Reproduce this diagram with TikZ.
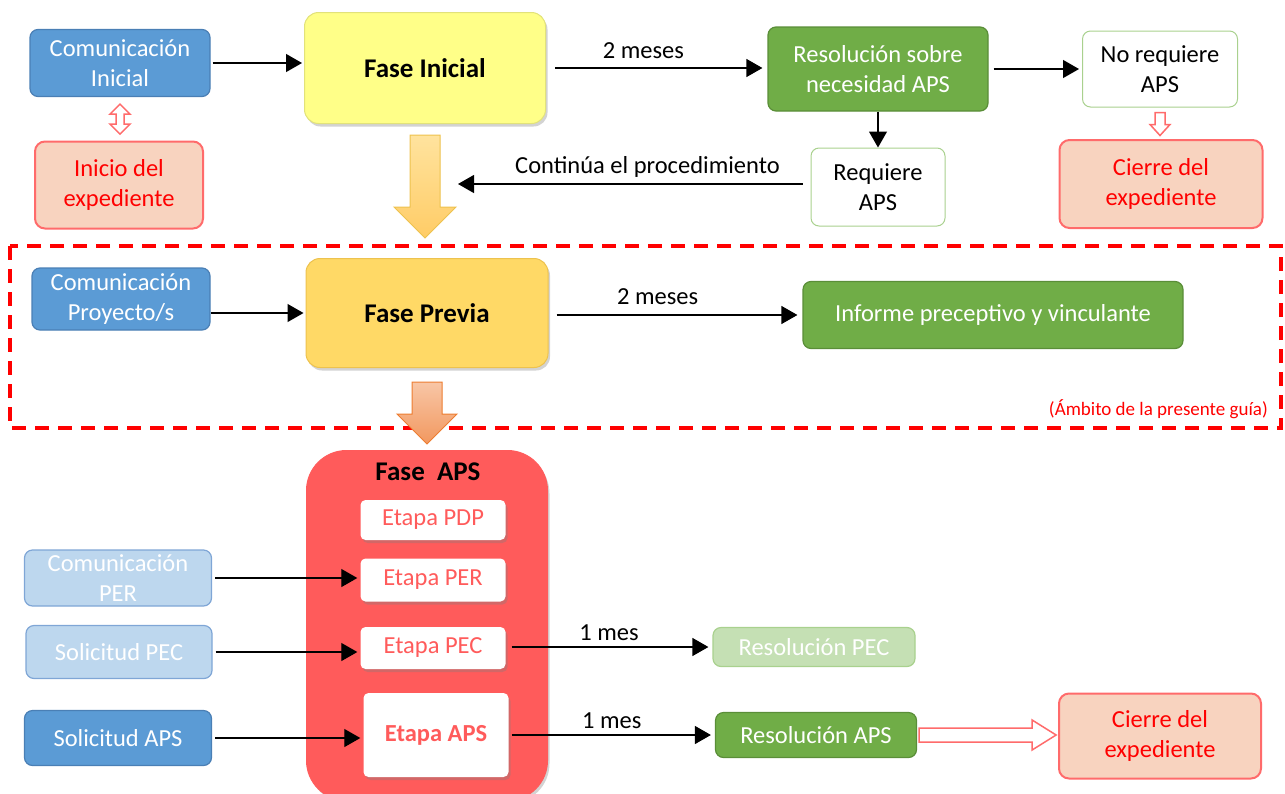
\documentclass[tikz,border=0pt]{standalone}
\usepackage{fontspec}
\setmainfont{Carlito}
\usetikzlibrary{arrows.meta,shadows}
\definecolor{azul}{HTML}{5B9BD5}
\definecolor{azulD}{HTML}{4A7FB5}
\definecolor{azulC}{HTML}{BDD7EE}
\definecolor{azulCD}{HTML}{7FA6D6}
\definecolor{verde}{HTML}{70AD47}
\definecolor{verdeD}{HTML}{5A8E38}
\definecolor{verdeC}{HTML}{C5E0B4}
\definecolor{verdeCD}{HTML}{A9D18E}
\definecolor{melocoton}{HTML}{F8D3BF}
\definecolor{rojoB}{HTML}{FF6B6B}
\definecolor{rojoT}{HTML}{FF0000}
\definecolor{rojoAPS}{HTML}{FF5B5B}
\definecolor{amarillo}{HTML}{FFFF88}
\definecolor{amarilloD}{HTML}{E2E27A}
\definecolor{oro}{HTML}{FFD966}
\definecolor{oroD}{HTML}{EDC24E}
\definecolor{flechaA}{HTML}{FFE39E}
\definecolor{flechaB}{HTML}{FFCC66}
\definecolor{salmonA}{HTML}{F8C6A6}
\definecolor{salmonB}{HTML}{F2985F}
\definecolor{salmonD}{HTML}{ED7D31}

\begin{document}
\begin{tikzpicture}[x=1pt,y=-1pt,
    every node/.style={font=\fontsize{24.5}{30}\selectfont, align=center, inner sep=2pt},
    sombra/.style={drop shadow={opacity=0.35, shadow xshift=2pt, shadow yshift=-3pt}},
    azulbox/.style={rounded corners=8pt, line width=1.2pt, fill=azul, draw=azulD, text=white},
    claro/.style={rounded corners=8pt, line width=1.2pt, fill=azulC, draw=azulCD, text=white, inner ysep=0pt},
    verdebox/.style={rounded corners=8pt, line width=1.2pt, fill=verde, draw=verdeD, text=white},
    blancobox/.style={rounded corners=8pt, line width=1pt, fill=white, draw=verdeCD, text=black},
    expbox/.style={rounded corners=10pt, line width=2pt, fill=melocoton, draw=rojoB, text=rojoT},
    fase/.style={rounded corners=14pt, line width=1pt, sombra, font=\fontsize{27}{32}\selectfont\bfseries},
    etapa/.style={rounded corners=5pt, fill=white, sombra, text=rojoAPS, minimum width=145pt},
    flecha/.style={-{Triangle[length=16pt,width=18pt]}, line width=1.2pt},
    hueca/.style={draw=rojoB, fill=white, line width=1.5pt, line join=miter}]
\useasboundingbox (0,0) rectangle (1285,793);

\node[azulbox, minimum width=180pt, minimum height=67pt] (ci) at (120,63) {Comunicación\\Inicial};
\node[expbox, minimum width=168pt, minimum height=87pt] (ie) at (119,185) {Inicio del\\expediente};
\node[fase, fill=amarillo, draw=amarilloD, minimum width=241pt, minimum height=111pt] (fi) at (425,68) {Fase Inicial};
\node[verdebox, minimum width=220pt, minimum height=84pt] (res) at (878,69) {Resolución sobre\\necesidad APS};
\node[blancobox, minimum width=155pt, minimum height=76pt] (noreq) at (1160,69) {No requiere\\APS};
\node[expbox, minimum width=203pt, minimum height=88pt] (ce1) at (1161,184) {Cierre del\\expediente};
\node[blancobox, minimum width=134pt, minimum height=78pt] (req) at (878,187) {Requiere\\APS};
\coordinate (cont) at (458,184);

\draw[flecha, shorten <=2pt, shorten >=2pt] (ci.east) -- (ci.east -| fi.west);
\draw[flecha, shorten <=9pt, shorten >=5pt] (fi.east) -- (fi.east -| res.west) node[pos=0.44, above=7pt] {2 meses};
\draw[flecha, shorten <=5pt, shorten >=3pt] (res.east) -- (noreq.west);
\draw[flecha] (res.south) -- (req.north);
\draw[flecha] ([xshift=-8pt]req.west |- cont) -- (cont) node[pos=0.45, above=4pt] {Continúa el procedimiento};

\draw[hueca] ([yshift=-7pt]ci.south) -- ++(10,10) -- ++(-6,0) -- ++(0,10) -- ++(6,0) -- ++(-10,10)
    -- ++(-10,-10) -- ++(6,0) -- ++(0,-10) -- ++(-6,0) -- cycle;
\draw[hueca] ([yshift=-5pt]noreq.south) ++(-5,0) -- ++(10,0) -- ++(0,12) -- ++(5,0) -- ++(-10,11)
    -- ++(-10,-11) -- ++(5,0) -- cycle;
\draw[draw=oroD, top color=flechaA, bottom color=flechaB, line width=1pt]
    ([yshift=-11pt]fi.south) ++(-15,0) -- ++(30,0) -- ++(0,72) -- ++(16,0) -- ++(-31,31)
    -- ++(-31,-31) -- ++(16,0) -- cycle;

\draw[rojoT, line width=3.5pt, dash pattern=on 14pt off 9pt] (10,246) rectangle (1281,428);
\node[azulbox, minimum width=178pt, minimum height=62pt] (cp) at (121,299) {Comunicación\\Proyecto/s};
\node[fase, fill=oro, draw=oroD, minimum width=242pt, minimum height=109pt] (fp) at (427,313) {Fase Previa};
\node[verdebox, minimum width=380pt, minimum height=67pt] (inf) at (993,315) {Informe preceptivo y vinculante};
\node[anchor=east, text=rojoT, font=\fontsize{19}{23}\selectfont] (amb) at (1270,409) {(Ámbito de la presente guía)};

\draw[flecha, shorten >=2pt] (cp.east |- fp.west) -- (fp.west);
\draw[flecha, shorten <=8pt, shorten >=5pt] (fp.east |- inf.west) -- (inf.west) node[pos=0.43, above=8pt] {2 meses};
\draw[draw=salmonD, top color=salmonA, bottom color=salmonB, line width=1pt]
    ([yshift=-14pt]fp.south) ++(-15,0) -- ++(30,0) -- ++(0,32) -- ++(15,0) -- ++(-30,30)
    -- ++(-30,-30) -- ++(15,0) -- cycle;

\node[fase, fill=rojoAPS, draw=rojoAPS, rounded corners=40pt, anchor=north, minimum width=241pt, minimum height=350pt] (fa) at (427,450) {};
\node[font=\fontsize{27}{32}\selectfont\bfseries] (fat) at (428,472) {Fase~~APS};
\node[etapa, minimum height=40pt] (pdp) at (433,520) {Etapa PDP};
\node[etapa, minimum height=43pt] (per) at (433,580) {Etapa PER};
\node[etapa, minimum height=42pt] (pec) at (433,648) {Etapa PEC};
\node[etapa, minimum height=84pt, font=\fontsize{24.5}{30}\selectfont\bfseries] (eaps) at (436,735) {Etapa APS};

\node[claro, minimum width=187pt, minimum height=56pt] (cper) at (118,578) {Comunicación\\PER};
\node[claro, minimum width=186pt, minimum height=53pt] (spec) at (119,652) {Solicitud PEC};
\node[azulbox, minimum width=187pt, minimum height=55pt] (saps) at (118,738) {Solicitud APS};
\node[rounded corners=8pt, line width=1.2pt, fill=verdeC, draw=verdeCD, text=white, minimum width=202pt, minimum height=39pt] (rpec) at (814,647) {Resolución PEC};
\node[verdebox, minimum width=201pt, minimum height=45pt] (raps) at (816,735) {Resolución APS};
\node[expbox, minimum width=202pt, minimum height=85pt] (ce2) at (1160,736) {Cierre del\\expediente};

\draw[flecha, shorten <=3pt, shorten >=3pt] (cper.east) -- (cper.east -| per.west);
\draw[flecha, shorten <=3pt, shorten >=3pt] (spec.east) -- (spec.east -| pec.west);
\draw[flecha, shorten <=3pt, shorten >=3pt] (saps.east) -- (saps.east -| eaps.west);
\draw[flecha, shorten <=6pt, shorten >=4pt] (pec.east |- rpec.west) -- (rpec.west) node[midway, above=4pt] {1 mes};
\draw[flecha, shorten <=3pt, shorten >=4pt] (eaps.east) -- (raps.west) node[midway, above=4pt] {1 mes};
\draw[hueca] ([xshift=2pt]raps.east) ++(0,-7) -- ++(113,0) -- ++(0,-8) -- ++(24,15) -- ++(-24,15)
    -- ++(0,-8) -- ++(-113,0) -- cycle;
\end{tikzpicture}
\end{document}
